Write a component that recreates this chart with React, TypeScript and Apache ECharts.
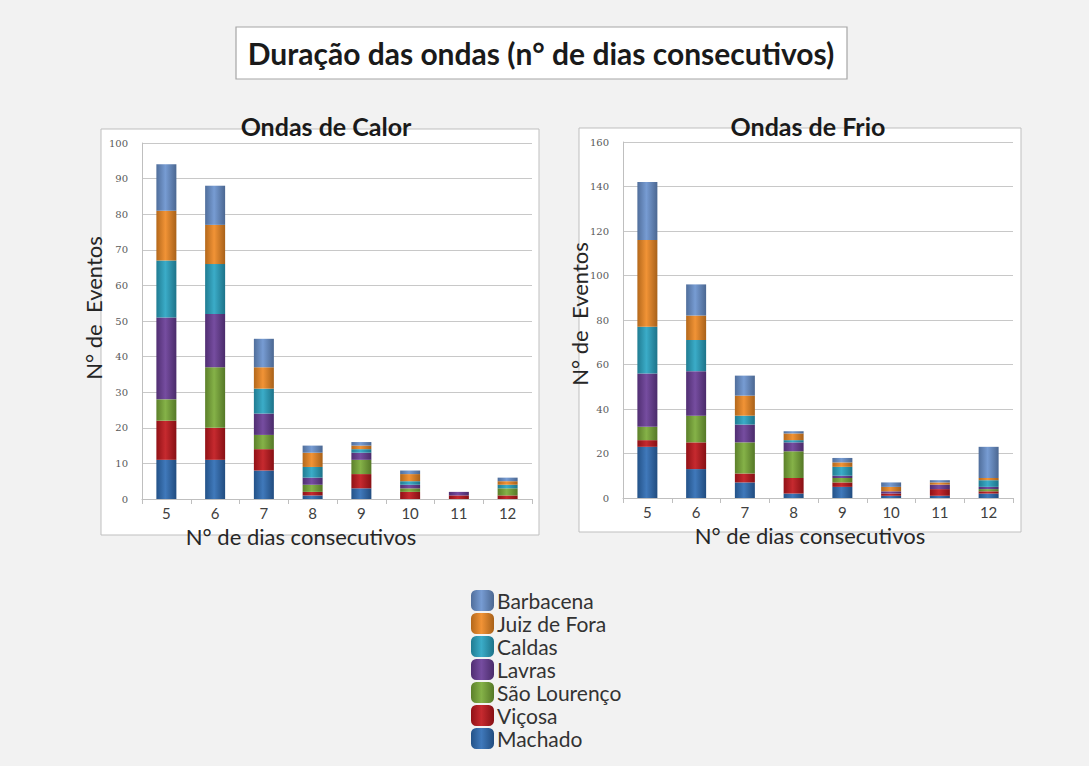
import React, { useEffect, useRef } from "react";
import * as echarts from "echarts";

const categories = ["5", "6", "7", "8", "9", "10", "11", "12"];
const stations = ["Machado", "Viçosa", "São Lourenço", "Lavras", "Caldas", "Juiz de Fora", "Barbacena"];
const stationColors = ["#2f6db5", "#c1171d", "#7aab38", "#6a3d98", "#2aa5c3", "#f08a24", "#6b93cf"];

// Ondas de Calor (heat waves)
const calorMachado = [11, 11, 8, 1, 3, 0, 0, 0];
const calorVicosa = [11, 9, 6, 1, 4, 2, 1, 1];
const calorSaoLourenco = [6, 17, 4, 2, 4, 1, 0, 2];
const calorLavras = [23, 15, 6, 2, 2, 1, 1, 0];
const calorCaldas = [16, 14, 7, 3, 1, 1, 0, 1];
const calorJuizDeFora = [14, 11, 6, 4, 1, 2, 0, 1];
const calorBarbacena = [13, 11, 8, 2, 1, 1, 0, 1];

// Ondas de Frio (cold waves)
const frioMachado = [23, 13, 7, 2, 5, 1, 1, 2];
const frioVicosa = [3, 12, 4, 7, 2, 1, 3, 1];
const frioSaoLourenco = [6, 12, 14, 12, 2, 0, 0, 1];
const frioLavras = [24, 20, 8, 4, 1, 1, 2, 1];
const frioCaldas = [21, 14, 4, 1, 4, 0, 0, 3];
const frioJuizDeFora = [39, 11, 9, 3, 2, 2, 1, 1];
const frioBarbacena = [26, 14, 9, 1, 2, 2, 1, 14];

const calorTicks = [0, 10, 20, 30, 40, 50, 60, 70, 80, 90, 100];
const frioTicks = [0, 20, 40, 60, 80, 100, 120, 140, 160];

const calorData = [calorMachado, calorVicosa, calorSaoLourenco, calorLavras, calorCaldas, calorJuizDeFora, calorBarbacena];
const frioData = [frioMachado, frioVicosa, frioSaoLourenco, frioLavras, frioCaldas, frioJuizDeFora, frioBarbacena];

const FONT = "Lato, 'Open Sans', sans-serif";

function shade(hex: string, f: number): string {
  const n = parseInt(hex.slice(1), 16);
  let r = (n >> 16) & 255, g = (n >> 8) & 255, b = n & 255;
  if (f < 0) {
    r = Math.round(r * (1 + f)); g = Math.round(g * (1 + f)); b = Math.round(b * (1 + f));
  } else {
    r = Math.round(r + (255 - r) * f); g = Math.round(g + (255 - g) * f); b = Math.round(b + (255 - b) * f);
  }
  return `rgb(${r},${g},${b})`;
}

function grad(hex: string) {
  return new echarts.graphic.LinearGradient(0, 0, 1, 0, [
    { offset: 0, color: shade(hex, -0.25) },
    { offset: 0.45, color: shade(hex, 0.08) },
    { offset: 1, color: shade(hex, -0.3) },
  ]);
}

export default function App() {
  const ref = useRef<HTMLDivElement>(null);
  useEffect(() => {
    if (!ref.current) return;
    const chart = echarts.init(ref.current, null, { renderer: "svg" });

    const xAxisBase = (gridIndex: number) => ({
      type: "category" as const,
      gridIndex,
      data: categories,
      axisLine: { lineStyle: { color: "#bfbfbf" } },
      axisTick: { show: true, lineStyle: { color: "#bfbfbf" } },
      axisLabel: { fontSize: 15, color: "#404040", fontFamily: FONT, margin: 6 },
    });

    const yAxisBase = (gridIndex: number, ticks: number[]) => ({
      type: "value" as const,
      gridIndex,
      min: ticks[0],
      max: ticks[ticks.length - 1],
      interval: ticks[1] - ticks[0],
      axisLine: { show: true, lineStyle: { color: "#bfbfbf" } },
      axisTick: { show: false },
      splitLine: { lineStyle: { color: "#c8c8c8", width: 1.2 } },
      axisLabel: { fontSize: 10, color: "#595959", fontFamily: "'DejaVu Serif', serif", margin: 14 },
    });

    const makeSeries = (data: number[][], idx: number, stack: string) =>
      data.map((vals, i) => ({
        name: stations[i],
        type: "bar" as const,
        stack,
        xAxisIndex: idx,
        yAxisIndex: idx,
        barWidth: 20,
        data: vals,
        itemStyle: { color: grad(stationColors[i]) },
        emphasis: { disabled: true },
      }));

    const txt = (x: number, y: number, text: string, size: number, bold: boolean, rotation = 0) => ({
      type: "text",
      z: 10,
      x,
      y,
      rotation,
      style: {
        text,
        font: `${bold ? "bold " : ""}${size}px ${FONT}`,
        fill: bold ? "#1a1a1a" : "#262626",
        textAlign: "center",
        textVerticalAlign: "middle",
      },
    });

    chart.setOption({
      animation: false,
      backgroundColor: "#f2f2f2",
      graphic: [
        { type: "rect", z: -10, shape: { x: 236, y: 27, width: 611, height: 52 }, style: { fill: "#ffffff", stroke: "#a6a6a6", lineWidth: 1.2 } },
        txt(541, 53, "Duração das ondas (n° de dias consecutivos)", 30, true),
        { type: "rect", z: -10, shape: { x: 101, y: 129, width: 438, height: 406 }, style: { fill: "#ffffff", stroke: "#bfbfbf", lineWidth: 1 } },
        { type: "rect", z: -10, shape: { x: 579, y: 128, width: 442, height: 404 }, style: { fill: "#ffffff", stroke: "#bfbfbf", lineWidth: 1 } },
        txt(326, 126, "Ondas de Calor", 25, true),
        txt(808, 126, "Ondas de Frio", 25, true),
        txt(301, 536, "N° de dias consecutivos", 22, false),
        txt(810, 535, "N° de dias consecutivos", 22, false),
        txt(93, 308, "N° de  Eventos", 22, false, Math.PI / 2),
        txt(579, 314, "N° de  Eventos", 22, false, Math.PI / 2),
      ],
      legend: {
        orient: "vertical",
        left: 466,
        top: 585,
        itemWidth: 23,
        itemHeight: 21,
        itemGap: 2,
        icon: "roundRect",
        data: stations.slice().reverse(),
        textStyle: { fontSize: 21, color: "#333333", fontFamily: FONT, padding: [0, 0, 0, -2] },
        selectedMode: false,
      },
      grid: [
        { left: 142, top: 143, width: 390, height: 356 },
        { left: 623, top: 142, width: 390, height: 356 },
      ],
      xAxis: [xAxisBase(0), xAxisBase(1)],
      yAxis: [yAxisBase(0, calorTicks), yAxisBase(1, frioTicks)],
      series: [...makeSeries(calorData, 0, "calor"), ...makeSeries(frioData, 1, "frio")],
    });
    return () => chart.dispose();
  }, []);
  return <div ref={ref} style={{ position: "absolute", left: 0, top: 0, width: 1089, height: 766 }} />;
}
